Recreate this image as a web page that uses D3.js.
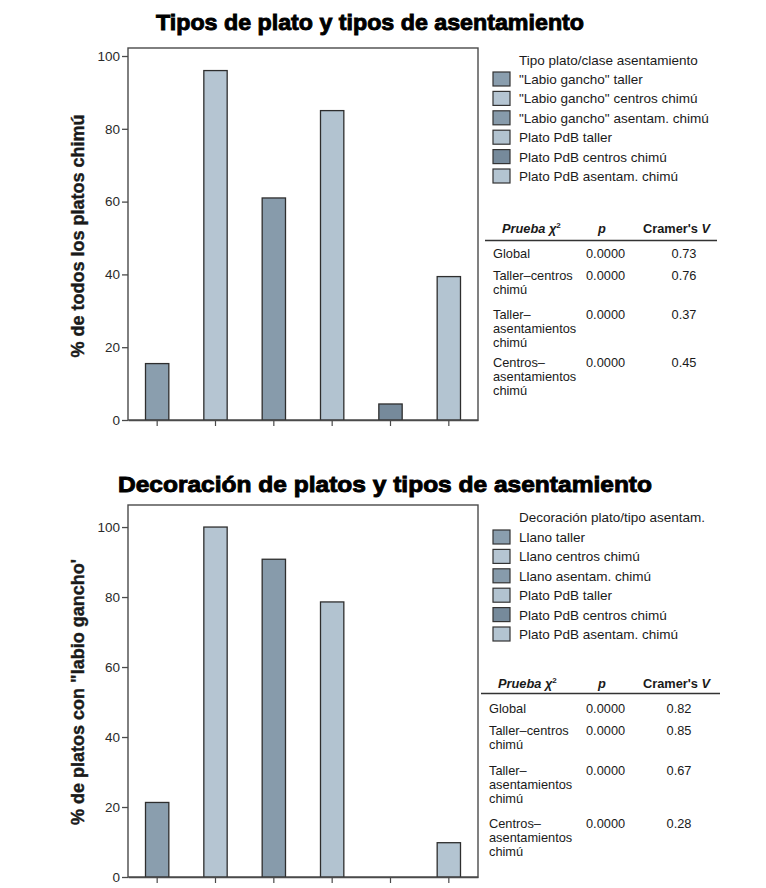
<!DOCTYPE html>
<html>
<head>
<meta charset="utf-8">
<script src="https://cdn.jsdelivr.net/npm/d3@7"></script>
<style>
  html, body { margin: 0; padding: 0; background: #ffffff; }
  svg { display: block; font-family: "Liberation Sans", Arial, sans-serif; }
</style>
</head>
<body>
<svg id="chart" width="766" height="888"></svg>
<script>
// ---- data ----
const titleTop = "Tipos de plato y tipos de asentamiento";
const titleBottom = "Decoración de platos y tipos de asentamiento";
const yLabelTop = "% de todos los platos chimú";
const yLabelBottom = "% de platos con \"labio gancho'";
const legendTitleTop = "Tipo plato/clase asentamiento";
const legendTitleBottom = "Decoración plato/tipo asentam.";

const categoriesTop = [
  "\"Labio gancho\" taller",
  "\"Labio gancho\" centros chimú",
  "\"Labio gancho\" asentam. chimú",
  "Plato PdB taller",
  "Plato PdB centros chimú",
  "Plato PdB asentam. chimú"
];
const valuesTop = [15.5, 96, 61, 85, 4.4, 39.4];

const categoriesBottom = [
  "Llano taller",
  "Llano centros chimú",
  "Llano asentam. chimú",
  "Plato PdB taller",
  "Plato PdB centros chimú",
  "Plato PdB asentam. chimú"
];
const valuesBottom = [21.3, 100, 90.8, 78.6, 0, 9.8];

const yTicks = [0, 20, 40, 60, 80, 100];

// fill shade of each category (same order as the categories)
const palette = ["#8a9eae", "#b5c5d2", "#879bab", "#b2c3d0", "#768a9b", "#b3c4d1"];

// chi-square summary tables
const testRows = [
  ["Global"],
  ["Taller–centros", "chimú"],
  ["Taller–", "asentamientos", "chimú"],
  ["Centros–", "asentamientos", "chimú"]
];
const pTop = ["0.0000", "0.0000", "0.0000", "0.0000"];
const vTop = ["0.73", "0.76", "0.37", "0.45"];
const pBottom = ["0.0000", "0.0000", "0.0000", "0.0000"];
const vBottom = ["0.82", "0.85", "0.67", "0.28"];

// ---- drawing ----
const svg = d3.select("#chart");
const ink = "#1a1a1a";

function drawPanel(cfg) {
  const g = svg.append("g");

  // heading
  g.append("text")
    .attr("x", cfg.titleX).attr("y", cfg.titleY)
    .attr("text-anchor", "middle")
    .attr("font-size", 22).attr("font-weight", 900)
    .attr("fill", "#000").attr("stroke", "#000").attr("stroke-width", 0.9)
    .attr("textLength", cfg.titleW).attr("lengthAdjust", "spacingAndGlyphs")
    .text(cfg.title);

  const x = d3.scaleBand()
    .domain(cfg.categories)
    .range([cfg.left, cfg.right])
    .paddingInner(0.6).paddingOuter(0.3);
  const y = d3.scaleLinear()
    .domain([0, cfg.yMax])
    .range([cfg.bottom, cfg.top]);

  // plot frame
  g.append("rect")
    .attr("x", cfg.left).attr("y", cfg.top)
    .attr("width", cfg.right - cfg.left).attr("height", cfg.bottom - cfg.top)
    .attr("fill", "#fff").attr("stroke", "#4a4a4a").attr("stroke-width", 1.4);

  // bars
  g.selectAll("rect.bar")
    .data(cfg.values)
    .join("rect")
    .attr("class", "bar")
    .attr("x", (d, i) => x(cfg.categories[i]))
    .attr("width", x.bandwidth())
    .attr("y", d => y(d))
    .attr("height", d => y(0) - y(d))
    .attr("fill", (d, i) => palette[i])
    .attr("stroke", "#2e2e2e").attr("stroke-width", 1.3);

  // y axis
  const ya = g.append("g")
    .attr("transform", `translate(${cfg.left},0)`)
    .call(d3.axisLeft(y).tickValues(yTicks).tickSize(6).tickSizeOuter(0).tickPadding(2));
  ya.select(".domain").remove();
  ya.selectAll(".tick line").attr("stroke", "#4a4a4a").attr("stroke-width", 1.3);
  ya.selectAll(".tick text")
    .attr("font-family", "Liberation Sans, Arial, sans-serif")
    .attr("font-size", 13.5).attr("fill", "#2a2a2a");

  // x axis (ticks only)
  const xa = g.append("g")
    .attr("transform", `translate(0,${cfg.bottom})`)
    .call(d3.axisBottom(x).tickSize(6).tickSizeOuter(0).tickFormat(""));
  xa.select(".domain").attr("stroke", "#4a4a4a").attr("stroke-width", 1.4);
  xa.selectAll(".tick line").attr("stroke", "#4a4a4a").attr("stroke-width", 1.2);

  // y axis title
  g.append("text")
    .attr("transform", `translate(${cfg.yLabelX},${cfg.yLabelY}) rotate(-90)`)
    .attr("text-anchor", "middle")
    .attr("font-size", 18).attr("font-weight", "bold").attr("fill", ink)
    .attr("stroke", ink).attr("stroke-width", 0.4)
    .text(cfg.yLabel);

  // legend
  const lg = g.append("g");
  lg.append("text")
    .attr("x", cfg.legendX + 26).attr("y", cfg.legendTitleY)
    .attr("font-size", 13.5).attr("fill", ink)
    .text(cfg.legendTitle);
  const rows = lg.selectAll("g.row")
    .data(cfg.categories)
    .join("g")
    .attr("class", "row")
    .attr("transform", (d, i) => `translate(${cfg.legendX},${cfg.legendRowY + i * 19.4})`);
  rows.append("rect")
    .attr("width", 17).attr("height", 14)
    .attr("fill", (d, i) => palette[i])
    .attr("stroke", "#333").attr("stroke-width", 1.2);
  rows.append("text")
    .attr("x", 26).attr("y", 12)
    .attr("font-size", 13.5).attr("fill", ink)
    .text(d => d);

  // chi-square table
  const tg = g.append("g").attr("font-size", 12.8).attr("fill", ink);
  const th = tg.append("text").attr("y", cfg.headY).attr("font-weight", "bold");
  th.append("tspan").attr("x", cfg.tableX + 9).attr("font-style", "italic").text("Prueba ");
  th.append("tspan").attr("font-style", "italic").text("χ");
  th.append("tspan").attr("font-size", 8).attr("dy", -5).text("2");
  tg.append("text").attr("x", cfg.pX + 16).attr("y", cfg.headY)
    .attr("text-anchor", "middle")
    .attr("font-weight", "bold").attr("font-style", "italic").text("p");
  const tv = tg.append("text").attr("x", cfg.vHeadX).attr("y", cfg.headY).attr("font-weight", "bold");
  tv.append("tspan").text("Cramer's ");
  tv.append("tspan").attr("font-style", "italic").text("V");
  tg.append("line")
    .attr("x1", cfg.tableX - 8).attr("x2", cfg.tableRight)
    .attr("y1", cfg.lineY).attr("y2", cfg.lineY)
    .attr("stroke", "#333").attr("stroke-width", 1.5);

  testRows.forEach((lines, i) => {
    const by = cfg.rowY[i];
    lines.forEach((t, j) => {
      tg.append("text").attr("x", cfg.tableX).attr("y", by + j * 13.8).text(t);
    });
    tg.append("text").attr("x", cfg.pX).attr("y", by).text(cfg.p[i]);
    tg.append("text").attr("x", cfg.vX).attr("y", by)
      .attr("text-anchor", "middle").text(cfg.v[i]);
  });
}

drawPanel({
  title: titleTop, titleX: 370, titleY: 30, titleW: 428,
  categories: categoriesTop, values: valuesTop,
  left: 128, right: 478, top: 48, bottom: 420, yMax: 102.2,
  yLabel: yLabelTop, yLabelX: 84, yLabelY: 236,
  legendTitle: legendTitleTop, legendX: 493, legendTitleY: 65, legendRowY: 72,
  tableX: 493, pX: 586, vX: 684, vHeadX: 643, tableRight: 717,
  headY: 233, lineY: 240.5, rowY: [258, 280, 319, 367],
  p: pTop, v: vTop
});

drawPanel({
  title: titleBottom, titleX: 385, titleY: 492, titleW: 534,
  categories: categoriesBottom, values: valuesBottom,
  left: 128, right: 478, top: 505, bottom: 877, yMax: 106.3,
  yLabel: yLabelBottom, yLabelX: 84, yLabelY: 692,
  legendTitle: legendTitleBottom, legendX: 493, legendTitleY: 522, legendRowY: 530,
  tableX: 489, pX: 586, vX: 679, vHeadX: 643, tableRight: 720,
  headY: 688, lineY: 693.5, rowY: [713, 735, 775, 828],
  p: pBottom, v: vBottom
});
</script>
</body>
</html>
